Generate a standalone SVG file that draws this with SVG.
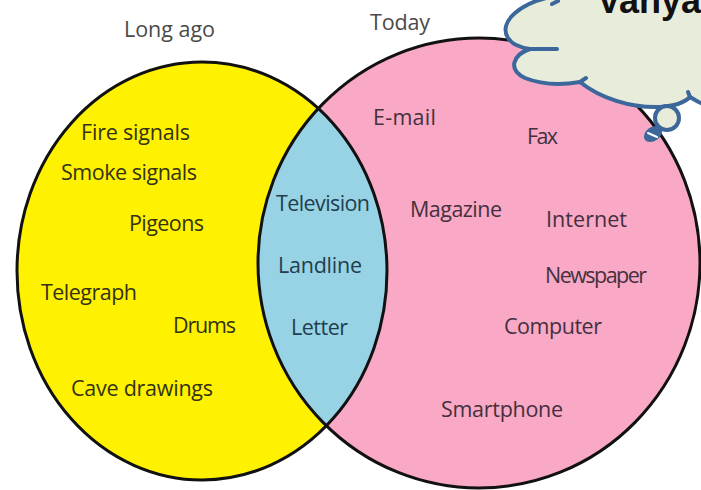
<svg xmlns="http://www.w3.org/2000/svg" width="701" height="490" viewBox="0 0 701 490">
<style>
.lbl{font-family:"Open Sans","Noto Sans","Liberation Sans",sans-serif;font-size:21.5px}
.hdr{fill:#4a4a4a}
.y{fill:#333214}
.b{fill:#223e4d}
.p{fill:#43303d}
.ring{fill:none;stroke:#111111;stroke-width:3}
.cl{fill:#e8ecdb;stroke:#3b679b;stroke-width:4;stroke-linecap:round;stroke-linejoin:round}
.tick{fill:none;stroke:#3b679b;stroke-width:4;stroke-linecap:round}
</style>
<defs>
<clipPath id="clipRight"><ellipse cx="479" cy="263" rx="221" ry="225"/></clipPath>
</defs>
<rect width="701" height="490" fill="#ffffff"/>
<g id="set-long-ago">
<ellipse cx="202" cy="271" rx="185" ry="209" fill="#fff200"/>
</g>
<g id="set-today">
<ellipse cx="479" cy="263" rx="221" ry="225" fill="#f9a8c5"/>
</g>
<g id="set-both">
<ellipse cx="202" cy="271" rx="185" ry="209" fill="#98d3e5" clip-path="url(#clipRight)"/>
</g>
<g id="outlines">
<ellipse class="ring" cx="202" cy="271" rx="185" ry="209"/>
<ellipse class="ring" cx="479" cy="263" rx="221" ry="225"/>
</g>
<g id="headers">
<text class="lbl hdr" x="124" y="37" textLength="91">Long ago</text>
<text class="lbl hdr" x="370" y="30" textLength="60">Today</text>
</g>
<g id="items-long-ago">
<text class="lbl y" x="81" y="140" textLength="109">Fire signals</text>
<text class="lbl y" x="61" y="180" textLength="136">Smoke signals</text>
<text class="lbl y" x="129" y="231" textLength="75">Pigeons</text>
<text class="lbl y" x="41" y="300" textLength="96">Telegraph</text>
<text class="lbl y" x="173" y="333" textLength="63">Drums</text>
<text class="lbl y" x="71" y="396" textLength="142">Cave drawings</text>
</g>
<g id="items-both">
<text class="lbl b" x="276" y="211" textLength="94">Television</text>
<text class="lbl b" x="278" y="273" textLength="84">Landline</text>
<text class="lbl b" x="291" y="335" textLength="57">Letter</text>
</g>
<g id="items-today">
<text class="lbl p" x="373" y="125" textLength="63">E-mail</text>
<text class="lbl p" x="527" y="144" textLength="31">Fax</text>
<text class="lbl p" x="410" y="217" textLength="92">Magazine</text>
<text class="lbl p" x="546" y="227" textLength="81">Internet</text>
<text class="lbl p" x="545" y="283" textLength="102">Newspaper</text>
<text class="lbl p" x="504" y="334" textLength="98">Computer</text>
<text class="lbl p" x="441" y="417" textLength="122">Smartphone</text>
</g>
<g id="thought-cloud">
<path class="cl" d="M556,-4 C520,2 498,22 508,38 C513,46 523,48 530,49 C512,55 508,70 525,78 C545,86 568,84 580,82 C600,98 630,108 660,107 C675,106 685,102 690,97 C695,100 700,103 703,104 L703,-4 Z"/>
<path class="tick" d="M530,49 L557,49 M580,82 L586,78 M690,97 L688,92 M552,4 L558,1"/>
<ellipse cx="667" cy="118" rx="12" ry="12" fill="#e8ecdb" stroke="#3b679b" stroke-width="4"/>
<ellipse cx="653" cy="134" rx="10" ry="7" fill="#3b679b" transform="rotate(-35 653 134)"/>
<path d="M648,133 L657,137" stroke="#ffffff" stroke-width="2" stroke-linecap="round"/>
<text x="597" y="13" font-family="'Liberation Sans',Arial,sans-serif" font-weight="bold" font-size="36" fill="#111111">Vanya</text>
</g>
</svg>
